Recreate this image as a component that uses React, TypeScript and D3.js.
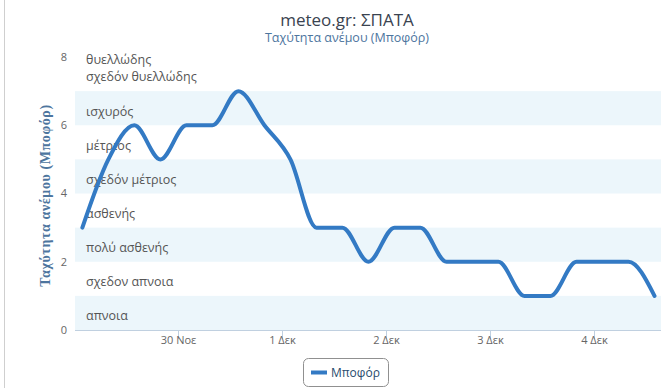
import React, { useEffect, useRef } from 'react';
import * as d3 from 'd3';

// wind force (Beaufort) every 6 hours
const times = [
    "2014-11-29T02:00Z", "2014-11-29T08:00Z", "2014-11-29T14:00Z", "2014-11-29T20:00Z",
    "2014-11-30T02:00Z", "2014-11-30T08:00Z", "2014-11-30T14:00Z", "2014-11-30T20:00Z",
    "2014-12-01T02:00Z", "2014-12-01T08:00Z", "2014-12-01T14:00Z", "2014-12-01T20:00Z",
    "2014-12-02T02:00Z", "2014-12-02T08:00Z", "2014-12-02T14:00Z", "2014-12-02T20:00Z",
    "2014-12-03T02:00Z", "2014-12-03T08:00Z", "2014-12-03T14:00Z", "2014-12-03T20:00Z",
    "2014-12-04T02:00Z", "2014-12-04T08:00Z", "2014-12-04T14:00Z",
];
const beaufort = [3, 5, 6, 5, 6, 6, 7, 6, 5, 3, 3, 2, 3, 3, 2, 2, 2, 1, 1, 2, 2, 2, 1];

const xTickDates = ["2014-11-30T00:00Z", "2014-12-01T00:00Z", "2014-12-02T00:00Z", "2014-12-03T00:00Z", "2014-12-04T00:00Z"];
const xTickLabels = ["30 Νοε", "1 Δεκ", "2 Δεκ", "3 Δεκ", "4 Δεκ"];
const yTicks = [0, 2, 4, 6, 8];

// band i spans i..i+1
const bandLabels = [
    "απνοια", "σχεδον απνοια", "πολύ ασθενής", "ασθενής", "σχεδόν μέτριος",
    "μέτριος", "ισχυρός", "σχεδόν θυελλώδης", "θυελλώδης",
];

const W = 671, H = 388;
const FONT = '"Open Sans", "Noto Sans", sans-serif';

const App: React.FC = () => {
    const ref = useRef<SVGSVGElement | null>(null);

    useEffect(() => {
        const svg = d3.select(ref.current);
        svg.selectAll("*").remove();

        const left = 75, right = 661, top = 57, bottom = 330;
        const t = times.map(s => new Date(s));
        const hour = 3600 * 1000;
        const x = d3.scaleUtc()
            .domain([new Date(+t[0] - 1.7 * hour), new Date(+t[t.length - 1] + 1.5 * hour)])
            .range([left, right]);
        const y = d3.scaleLinear().domain([0, 8]).range([bottom, top]);
        const clampY = (v: number) => Math.max(top, Math.min(bottom, y(v)));

        // frame line on the left
        svg.append("line")
            .attr("x1", 4.5).attr("x2", 4.5).attr("y1", 0).attr("y2", H)
            .attr("stroke", "#cfcfcf");

        // plot bands
        bandLabels.forEach((lab, i) => {
            if (i % 2 === 0 && i < 8) {
                svg.append("rect")
                    .attr("x", left).attr("width", right - left)
                    .attr("y", clampY(i + 1)).attr("height", clampY(i) - clampY(i + 1))
                    .attr("fill", "#ecf6fb");
            }
            const mid = (clampY(i) + clampY(i + 1)) / 2;
            svg.append("text")
                .attr("x", 86).attr("y", mid + 3).attr("dy", "0.35em")
                .attr("font-family", FONT).attr("font-size", 12.5)
                .attr("fill", "#555")
                .text(lab);
        });

        // x axis
        svg.append("line")
            .attr("x1", left).attr("x2", right).attr("y1", bottom + 0.5).attr("y2", bottom + 0.5)
            .attr("stroke", "#c0d0e0");
        xTickDates.forEach((d, i) => {
            const px = Math.round(x(new Date(d))) + 0.5;
            svg.append("line")
                .attr("x1", px).attr("x2", px).attr("y1", bottom).attr("y2", bottom + 9)
                .attr("stroke", "#c0d0e0");
            svg.append("text")
                .attr("x", px).attr("y", bottom + 14)
                .attr("text-anchor", "middle")
                .attr("font-family", FONT).attr("font-size", 11)
                .attr("fill", "#666")
                .text(xTickLabels[i]);
        });

        // y axis labels
        yTicks.forEach(v => {
            svg.append("text")
                .attr("x", 67).attr("y", y(v)).attr("dy", "0.35em")
                .attr("text-anchor", "end")
                .attr("font-family", FONT).attr("font-size", 11)
                .attr("fill", "#666")
                .text(v);
        });

        // y axis title
        svg.append("text")
            .attr("transform", `translate(50,${(top + bottom) / 2 + 2}) rotate(-90)`)
            .attr("text-anchor", "middle")
            .attr("font-family", '"Liberation Serif", serif')
            .attr("font-weight", "bold").attr("font-size", 14)
            .attr("letter-spacing", 0.6)
            .attr("fill", "#4d759e")
            .text("Ταχύτητα ανέμου (Μποφόρ)");

        // series
        const line = d3.line<number>()
            .x((_, i) => x(t[i]))
            .y(d => y(d))
            .curve(d3.curveMonotoneX);
        svg.append("path")
            .datum(beaufort)
            .attr("fill", "none")
            .attr("stroke", "#337ac4")
            .attr("stroke-width", 4)
            .attr("stroke-linejoin", "round")
            .attr("stroke-linecap", "round")
            .attr("d", line);

        // titles
        svg.append("text")
            .attr("x", 347).attr("y", 26)
            .attr("text-anchor", "middle")
            .attr("font-family", FONT).attr("font-size", 17)
            .attr("fill", "#3a4350")
            .text("meteo.gr: ΣΠΑΤΑ");
        svg.append("text")
            .attr("x", 347).attr("y", 42)
            .attr("text-anchor", "middle")
            .attr("font-family", FONT).attr("font-size", 12.5)
            .attr("fill", "#4d759e")
            .text("Ταχύτητα ανέμου (Μποφόρ)");

        // legend
        const lg = svg.append("g").attr("transform", "translate(303,358)");
        lg.append("rect")
            .attr("x", 0.5).attr("y", 0.5).attr("width", 85).attr("height", 28)
            .attr("rx", 5)
            .attr("fill", "#fff").attr("stroke", "#909090");
        lg.append("line")
            .attr("x1", 8).attr("x2", 24).attr("y1", 14.5).attr("y2", 14.5)
            .attr("stroke", "#337ac4").attr("stroke-width", 4);
        lg.append("text")
            .attr("x", 28).attr("y", 14.5).attr("dy", "0.35em")
            .attr("font-family", FONT).attr("font-size", 12)
            .attr("fill", "#274b6d")
            .text("Μποφόρ");
    }, []);

    return (
        <svg ref={ref} width={W} height={H}
            style={{ position: 'absolute', left: 0, top: 0, background: '#fff' }} />
    );
};

export default App;
